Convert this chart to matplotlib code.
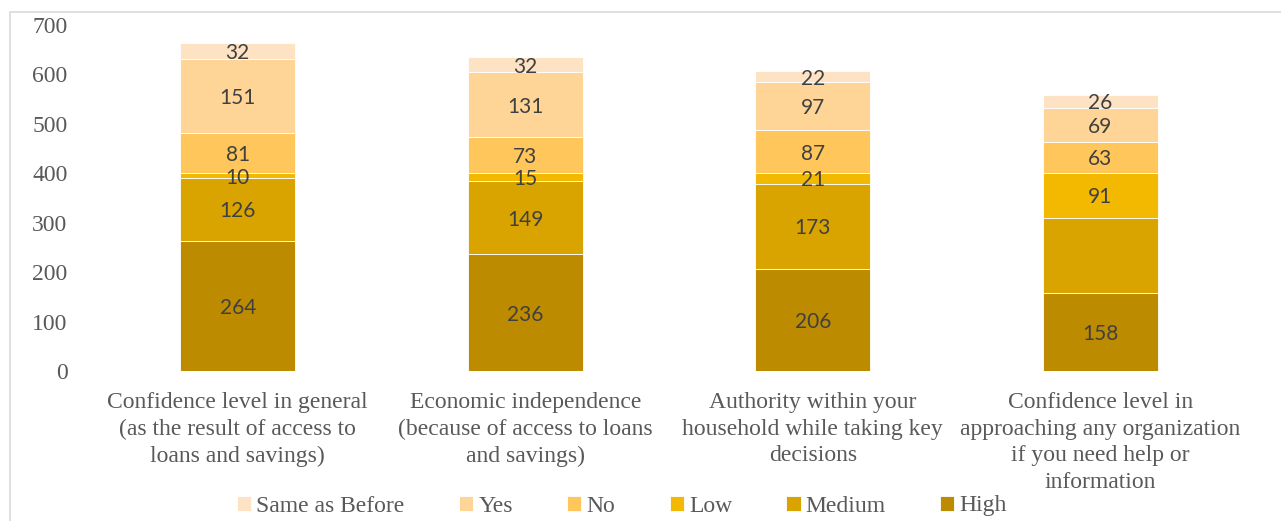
import matplotlib
matplotlib.use("Agg")
import matplotlib.pyplot as plt
from matplotlib.patches import Rectangle
import numpy as np

categories = [
    "Confidence level in general\n(as the result of access to\nloans and savings)",
    "Economic independence\n(because of access to loans\nand savings)",
    "Authority within your\nhousehold while taking key\ndecisions",
    "Confidence level in\napproaching any organization\nif you need help or\ninformation",
]
high = [264, 236, 206, 158]
medium = [126, 149, 173, 152]
low = [10, 15, 21, 91]
no = [81, 73, 87, 63]
yes = [151, 131, 97, 69]
same = [32, 32, 22, 26]
# labels shown on the chart (medium of the last bar is unlabeled)
medium_labels = ["126", "149", "173", ""]

series = [
    ("High", high, "#BC8B00", None),
    ("Medium", medium, "#D9A400", medium_labels),
    ("Low", low, "#F3B800", None),
    ("No", no, "#FFC65B", None),
    ("Yes", yes, "#FFD597", None),
    ("Same as Before", same, "#FEE2C4", None),
]

W, H = 1281, 521
fig = plt.figure(figsize=(W / 100, H / 100), dpi=100)
ax = fig.add_axes([94 / W, 1 - 371 / H, (1244 - 94) / W, (371 - 25) / H])

serif = ["Liberation Serif", "DejaVu Serif"]
x = np.arange(len(categories))
bottom = np.zeros(len(categories))
handles = []
for name, vals, color, labels in series:
    vals = np.array(vals, dtype=float)
    bars = ax.bar(x, vals, width=0.40, bottom=bottom, color=color,
                  edgecolor="white", linewidth=0.6, label=name)
    handles.append(bars)
    lbls = labels if labels is not None else [str(int(v)) for v in vals]
    txts = ax.bar_label(bars, labels=lbls, label_type="center", fontsize=15,
                        color="#404040", family="Lato")
    for t in txts:
        t.set_va("center_baseline")
    bottom += vals

ax.set_xlim(-0.5, len(categories) - 0.5)
ax.set_ylim(0, 700)
ax.set_yticks(range(0, 701, 100))
ax.set_xticks(x)
ax.set_xticklabels(categories, family=serif, fontsize=17, color="#595959",
                   linespacing=1.36)
for lab in ax.get_yticklabels():
    lab.set_family(serif)
    lab.set_fontsize(17)
    lab.set_color("#595959")
ax.tick_params(axis="both", length=0)
ax.tick_params(axis="y", pad=19)
ax.tick_params(axis="x", pad=15)
for s in ax.spines.values():
    s.set_visible(False)

leg = fig.legend(handles[::-1], [s[0] for s in series][::-1], loc="center",
                 bbox_to_anchor=(622 / W, 1 - 506 / H), ncol=6, frameon=False,
                 prop={"family": serif, "size": 17}, handlelength=0.6,
                 handleheight=0.6, handletextpad=0.22, columnspacing=2.3,
                 labelcolor="#595959")

# outer chart frame
fig.patches.append(Rectangle((10 / W, -0.1), 1.2, 1 - 12 / H + 0.1,
                             transform=fig.transFigure, fill=False,
                             edgecolor="#D9D9D9", linewidth=1.2))

fig.savefig("out.png", dpi=100)
